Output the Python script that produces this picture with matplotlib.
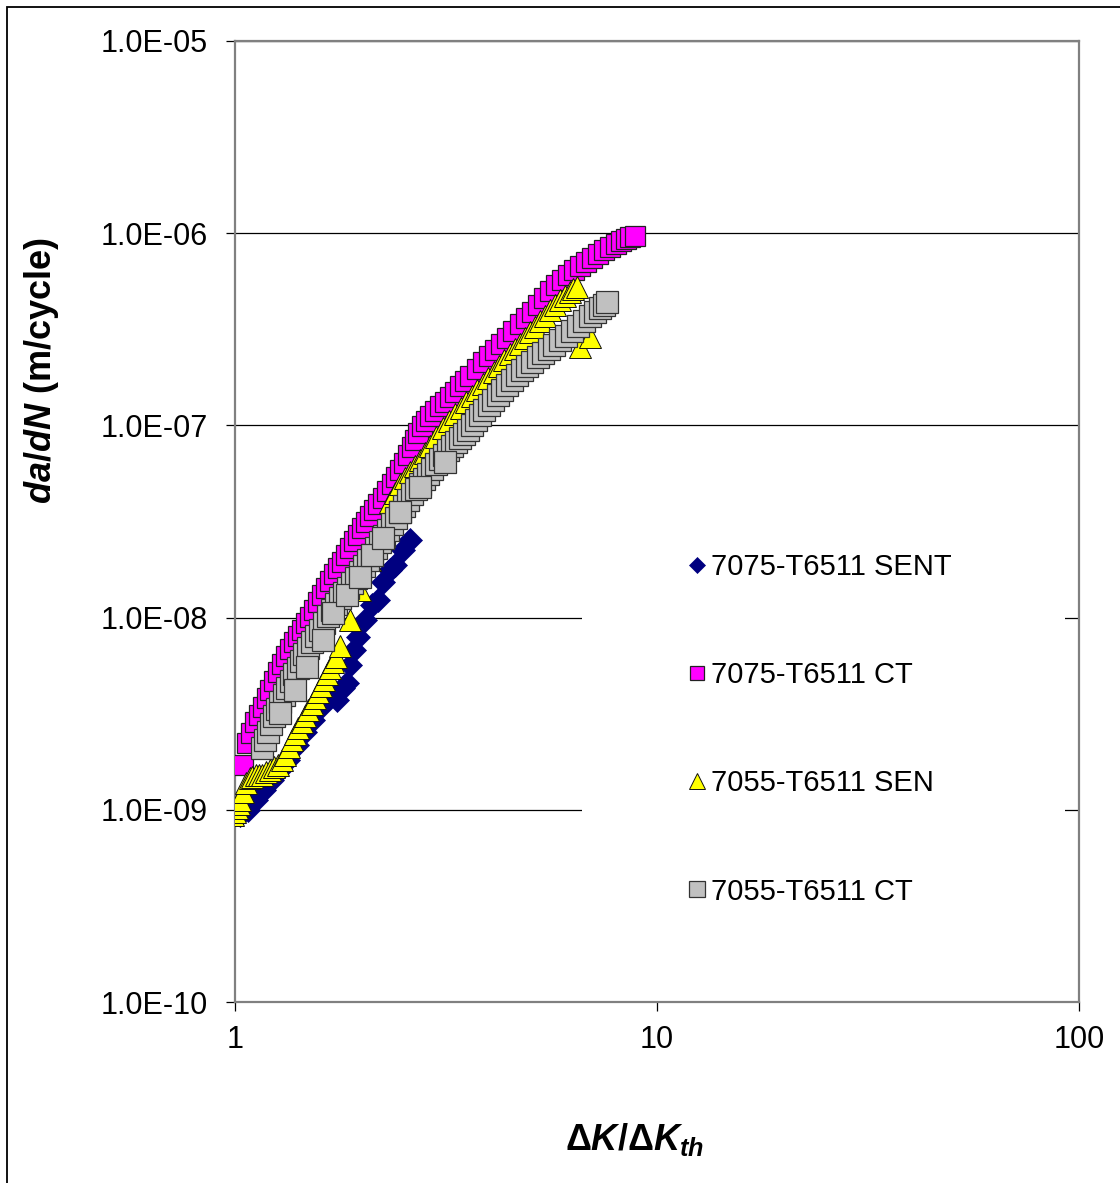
import matplotlib
matplotlib.use("Agg")
import matplotlib.pyplot as plt
from matplotlib.patches import Rectangle
from matplotlib.ticker import FixedLocator, FixedFormatter, NullLocator

plt.rcParams["font.family"] = ["Liberation Sans", "DejaVu Sans"]
plt.rcParams["mathtext.fontset"] = "custom"
plt.rcParams["mathtext.rm"] = "Liberation Sans:bold"
plt.rcParams["mathtext.it"] = "Liberation Sans:italic:bold"
plt.rcParams["mathtext.bf"] = "Liberation Sans:bold"

# data (dK/dKth, da/dN in m/cycle)
sent_7075_x = [1.028, 1.073, 1.121, 1.171, 1.224, 1.278, 1.335, 1.403, 1.465, 1.531,
               1.607, 1.679, 1.745, 1.803, 1.842, 1.873, 1.914, 1.956, 2.032, 2.112,
               2.182, 2.242, 2.330, 2.394, 2.501, 2.598]
sent_7075_y = [9.40e-10, 9.98e-10, 1.12e-9, 1.27e-9, 1.43e-9, 1.61e-9, 1.82e-9, 2.17e-9, 2.54e-9, 2.93e-9,
               3.47e-9, 3.86e-9, 3.73e-9, 4.30e-9, 4.57e-9, 5.67e-9, 6.78e-9, 7.93e-9, 9.72e-9, 1.16e-8,
               1.23e-8, 1.53e-8, 1.77e-8, 1.88e-8, 2.25e-8, 2.53e-8]

ct_7075_x = [1.045, 1.068, 1.090, 1.115, 1.140, 1.165, 1.188, 1.210, 1.237, 1.264, 1.292, 1.321,
             1.350, 1.380, 1.410, 1.441, 1.473, 1.506, 1.540, 1.573, 1.608, 1.643, 1.680, 1.717,
             1.755, 1.793, 1.833, 1.873, 1.914, 1.956, 2.000, 2.044, 2.090, 2.135, 2.188, 2.242,
             2.298, 2.355, 2.407, 2.460, 2.515, 2.570, 2.620, 2.670, 2.720, 2.775, 2.836, 2.899,
             2.980, 3.061, 3.145, 3.232, 3.322, 3.413, 3.509, 3.605, 3.735, 3.870, 4.000, 4.131,
             4.270, 4.411, 4.570, 4.736, 4.895, 5.056, 5.225, 5.399, 5.580, 5.765, 5.955, 6.154,
             6.360, 6.570, 6.790, 7.015, 7.250, 7.490, 7.740, 7.997, 8.220, 8.445, 8.650, 8.869]
ct_7075_y = [1.71e-9, 2.23e-9, 2.52e-9, 2.86e-9, 3.13e-9, 3.43e-9, 3.80e-9, 4.20e-9, 4.68e-9, 5.21e-9, 5.73e-9, 6.31e-9,
             6.86e-9, 7.46e-9, 8.02e-9, 8.62e-9, 9.33e-9, 1.01e-8, 1.10e-8, 1.21e-8, 1.31e-8, 1.43e-8, 1.55e-8, 1.69e-8,
             1.81e-8, 1.95e-8, 2.12e-8, 2.30e-8, 2.49e-8, 2.69e-8, 2.91e-8, 3.14e-8, 3.38e-8, 3.63e-8, 3.90e-8, 4.19e-8,
             4.56e-8, 4.96e-8, 5.39e-8, 5.86e-8, 6.41e-8, 7.02e-8, 7.68e-8, 8.40e-8, 9.13e-8, 9.93e-8, 1.05e-7, 1.12e-7,
             1.19e-7, 1.26e-7, 1.33e-7, 1.41e-7, 1.50e-7, 1.60e-7, 1.70e-7, 1.81e-7, 1.97e-7, 2.14e-7, 2.30e-7, 2.47e-7,
             2.65e-7, 2.85e-7, 3.10e-7, 3.37e-7, 3.62e-7, 3.89e-7, 4.23e-7, 4.60e-7, 4.98e-7, 5.37e-7, 5.70e-7, 6.06e-7,
             6.40e-7, 6.75e-7, 7.08e-7, 7.43e-7, 7.80e-7, 8.18e-7, 8.48e-7, 8.79e-7, 9.06e-7, 9.33e-7, 9.50e-7, 9.67e-7]

sen_7055_x = [0.989, 1.000, 1.011, 1.020, 1.028, 1.045, 1.062, 1.085, 1.100, 1.121, 1.140, 1.159,
              1.185, 1.210, 1.237, 1.264, 1.290, 1.314, 1.340, 1.365, 1.388, 1.411, 1.438, 1.465,
              1.493, 1.522, 1.548, 1.573, 1.600, 1.625, 1.652, 1.679, 1.708, 1.736, 1.774, 1.873,
              1.978, 2.089, 2.206, 2.330, 2.395, 2.460, 2.530, 2.598, 2.670, 2.745, 2.820, 2.899,
              3.000, 3.111, 3.215, 3.321, 3.425, 3.527, 3.636, 3.746, 3.860, 3.977, 4.100, 4.223,
              4.350, 4.484, 4.610, 4.736, 4.870, 5.001, 5.140, 5.282, 5.430, 5.579, 5.735, 5.891,
              6.050, 6.221, 6.340, 6.463, 6.570, 6.939]
sen_7055_y = [9.40e-10, 9.70e-10, 1.02e-9, 1.07e-9, 1.12e-9, 1.24e-9, 1.38e-9, 1.46e-9, 1.49e-9, 1.52e-9, 1.52e-9, 1.52e-9,
              1.57e-9, 1.61e-9, 1.66e-9, 1.71e-9, 1.82e-9, 1.93e-9, 2.11e-9, 2.31e-9, 2.48e-9, 2.66e-9, 2.86e-9, 3.08e-9,
              3.31e-9, 3.55e-9, 3.81e-9, 4.10e-9, 4.40e-9, 4.73e-9, 5.09e-9, 5.47e-9, 5.84e-9, 6.24e-9, 7.12e-9, 9.72e-9,
              1.39e-8, 1.99e-8, 2.86e-8, 3.99e-8, 4.45e-8, 4.96e-8, 5.33e-8, 5.72e-8, 6.15e-8, 6.61e-8, 7.18e-8, 7.81e-8,
              8.70e-8, 9.69e-8, 1.06e-7, 1.15e-7, 1.23e-7, 1.32e-7, 1.42e-7, 1.53e-7, 1.64e-7, 1.76e-7, 1.90e-7, 2.04e-7,
              2.19e-7, 2.35e-7, 2.50e-7, 2.65e-7, 2.85e-7, 3.06e-7, 3.27e-7, 3.49e-7, 3.73e-7, 3.98e-7, 4.23e-7, 4.49e-7,
              4.70e-7, 4.94e-7, 5.10e-7, 5.25e-7, 2.56e-7, 2.88e-7]

ct_7055_x = [1.159, 1.178, 1.197, 1.217, 1.237, 1.258, 1.278, 1.303, 1.328, 1.354, 1.380, 1.407,
             1.434, 1.461, 1.489, 1.522, 1.556, 1.590, 1.625, 1.661, 1.698, 1.736, 1.774, 1.813,
             1.853, 1.894, 1.935, 1.978, 2.021, 2.066, 2.112, 2.159, 2.206, 2.255, 2.305, 2.356,
             2.407, 2.461, 2.515, 2.571, 2.627, 2.686, 2.745, 2.806, 2.867, 2.931, 2.995, 3.061,
             3.128, 3.198, 3.268, 3.340, 3.413, 3.489, 3.566, 3.645, 3.725, 3.807, 3.890, 3.988,
             4.087, 4.190, 4.293, 4.413, 4.534, 4.660, 4.787, 4.920, 5.056, 5.213, 5.370, 5.536,
             5.702, 5.895, 6.087, 6.293, 6.499, 6.719, 6.939, 7.130, 7.328, 7.470, 7.613,
             1.278, 1.388, 1.481, 1.616, 1.707, 1.842, 1.978, 2.112, 2.242, 2.460, 2.745, 3.145]
ct_7055_y = [2.10e-9, 2.31e-9, 2.54e-9, 2.80e-9, 3.08e-9, 3.35e-9, 3.64e-9, 3.96e-9, 4.30e-9, 4.68e-9, 5.09e-9, 5.50e-9,
             5.95e-9, 6.43e-9, 6.95e-9, 7.47e-9, 8.02e-9, 8.67e-9, 9.37e-9, 1.02e-8, 1.10e-8, 1.18e-8, 1.26e-8, 1.34e-8,
             1.43e-8, 1.52e-8, 1.61e-8, 1.73e-8, 1.86e-8, 1.99e-8, 2.12e-8, 2.29e-8, 2.47e-8, 2.66e-8, 2.86e-8, 3.07e-8,
             3.30e-8, 3.55e-8, 3.81e-8, 4.09e-8, 4.39e-8, 4.67e-8, 4.96e-8, 5.27e-8, 5.59e-8, 5.94e-8, 6.30e-8, 6.66e-8,
             7.02e-8, 7.41e-8, 7.81e-8, 8.20e-8, 8.60e-8, 9.02e-8, 9.46e-8, 1.01e-7, 1.07e-7, 1.13e-7, 1.20e-7, 1.28e-7,
             1.36e-7, 1.44e-7, 1.53e-7, 1.62e-7, 1.72e-7, 1.83e-7, 1.94e-7, 2.04e-7, 2.14e-7, 2.26e-7, 2.38e-7, 2.50e-7,
             2.62e-7, 2.77e-7, 2.92e-7, 3.10e-7, 3.29e-7, 3.50e-7, 3.71e-7, 3.89e-7, 4.08e-7, 4.23e-7, 4.39e-7,
             3.19e-9, 4.20e-9, 5.53e-9, 7.64e-9, 1.06e-8, 1.31e-8, 1.63e-8, 2.12e-8, 2.60e-8, 3.54e-8, 4.78e-8, 6.45e-8]

labels = ["7075-T6511 SENT", "7075-T6511 CT", "7055-T6511 SEN", "7055-T6511 CT"]
y_ticks = [1e-10, 1e-9, 1e-8, 1e-7, 1e-6, 1e-5]
y_tick_labels = ["1.0E-10", "1.0E-09", "1.0E-08", "1.0E-07", "1.0E-06", "1.0E-05"]
x_ticks = [1, 10, 100]
x_tick_labels = ["1", "10", "100"]

W, H = 1120, 1183
fig = plt.figure(figsize=(W / 100, H / 100), dpi=100)
ax = fig.add_axes([235 / W, 1 - 1002 / H, (1079 - 235) / W, (1002 - 41) / H])
ax.set_xscale("log")
ax.set_yscale("log")
ax.set_xlim(1, 100)
ax.set_ylim(1e-10, 1e-5)

ax.plot(sent_7075_x, sent_7075_y, ls="none", marker="D", ms=12, mfc="#000080", mec="#000080",
        mew=0.5, label=labels[0], zorder=3)
ax.plot(ct_7075_x, ct_7075_y, ls="none", marker="s", ms=15, mfc="#FF00FF", mec="#222222",
        mew=0.9, label=labels[1], zorder=4)
ax.plot(sen_7055_x, sen_7055_y, ls="none", marker="^", ms=16, mfc="#FFFF00", mec="#111111",
        mew=0.7, label=labels[2], zorder=5)
ax.plot(ct_7055_x, ct_7055_y, ls="none", marker="s", ms=16, mfc="#C0C0C0", mec="#333333",
        mew=0.9, label=labels[3], zorder=6)

# gridlines (black), frame gray
ax.yaxis.set_major_locator(FixedLocator(y_ticks))
ax.yaxis.set_major_formatter(FixedFormatter(y_tick_labels))
ax.yaxis.set_minor_locator(NullLocator())
ax.xaxis.set_major_locator(FixedLocator(x_ticks))
ax.xaxis.set_major_formatter(FixedFormatter(x_tick_labels))
ax.xaxis.set_minor_locator(NullLocator())
ax.set_axisbelow(True)
ax.grid(axis="y", color="black", lw=0.9)
for s in ax.spines.values():
    s.set_color("#808080")
    s.set_linewidth(1.6)
ax.tick_params(axis="both", direction="out", length=6.5, width=0.9, color="black",
               labelsize=22, pad=10)
ax.tick_params(axis="y", pad=13)

# white block behind legend hides gridlines
ax.add_patch(Rectangle(((582 - 235) / 844, (1002 - 930) / 961), (1065 - 582) / 844, (930 - 520) / 961,
                       transform=ax.transAxes, facecolor="white", edgecolor="none", zorder=1))

leg = ax.legend(loc="upper left", bbox_to_anchor=(689 / W, 1 - 553 / H), bbox_transform=fig.transFigure,
                frameon=False, fontsize=21, handlelength=0.55, handletextpad=0.2,
                labelspacing=2.75, markerscale=0.7, borderpad=0, borderaxespad=0)

fig.text(42 / W, 1 - 370 / H, r"$da/dN$ (m/cycle)", rotation=90, ha="center", va="center",
         fontsize=26, fontweight="bold")
fig.text(634 / W, 1 - 1140 / H, r"$\Delta K/\Delta K_{th}$", ha="center", va="center", fontsize=26)

# outer figure border (only top/left visible)
fig.patches.append(Rectangle((7 / W, -0.1), 1.2, 1 - 7 / H + 0.1, transform=fig.transFigure,
                             facecolor="none", edgecolor="black", lw=1.3))

fig.savefig("out.png", dpi=100)
